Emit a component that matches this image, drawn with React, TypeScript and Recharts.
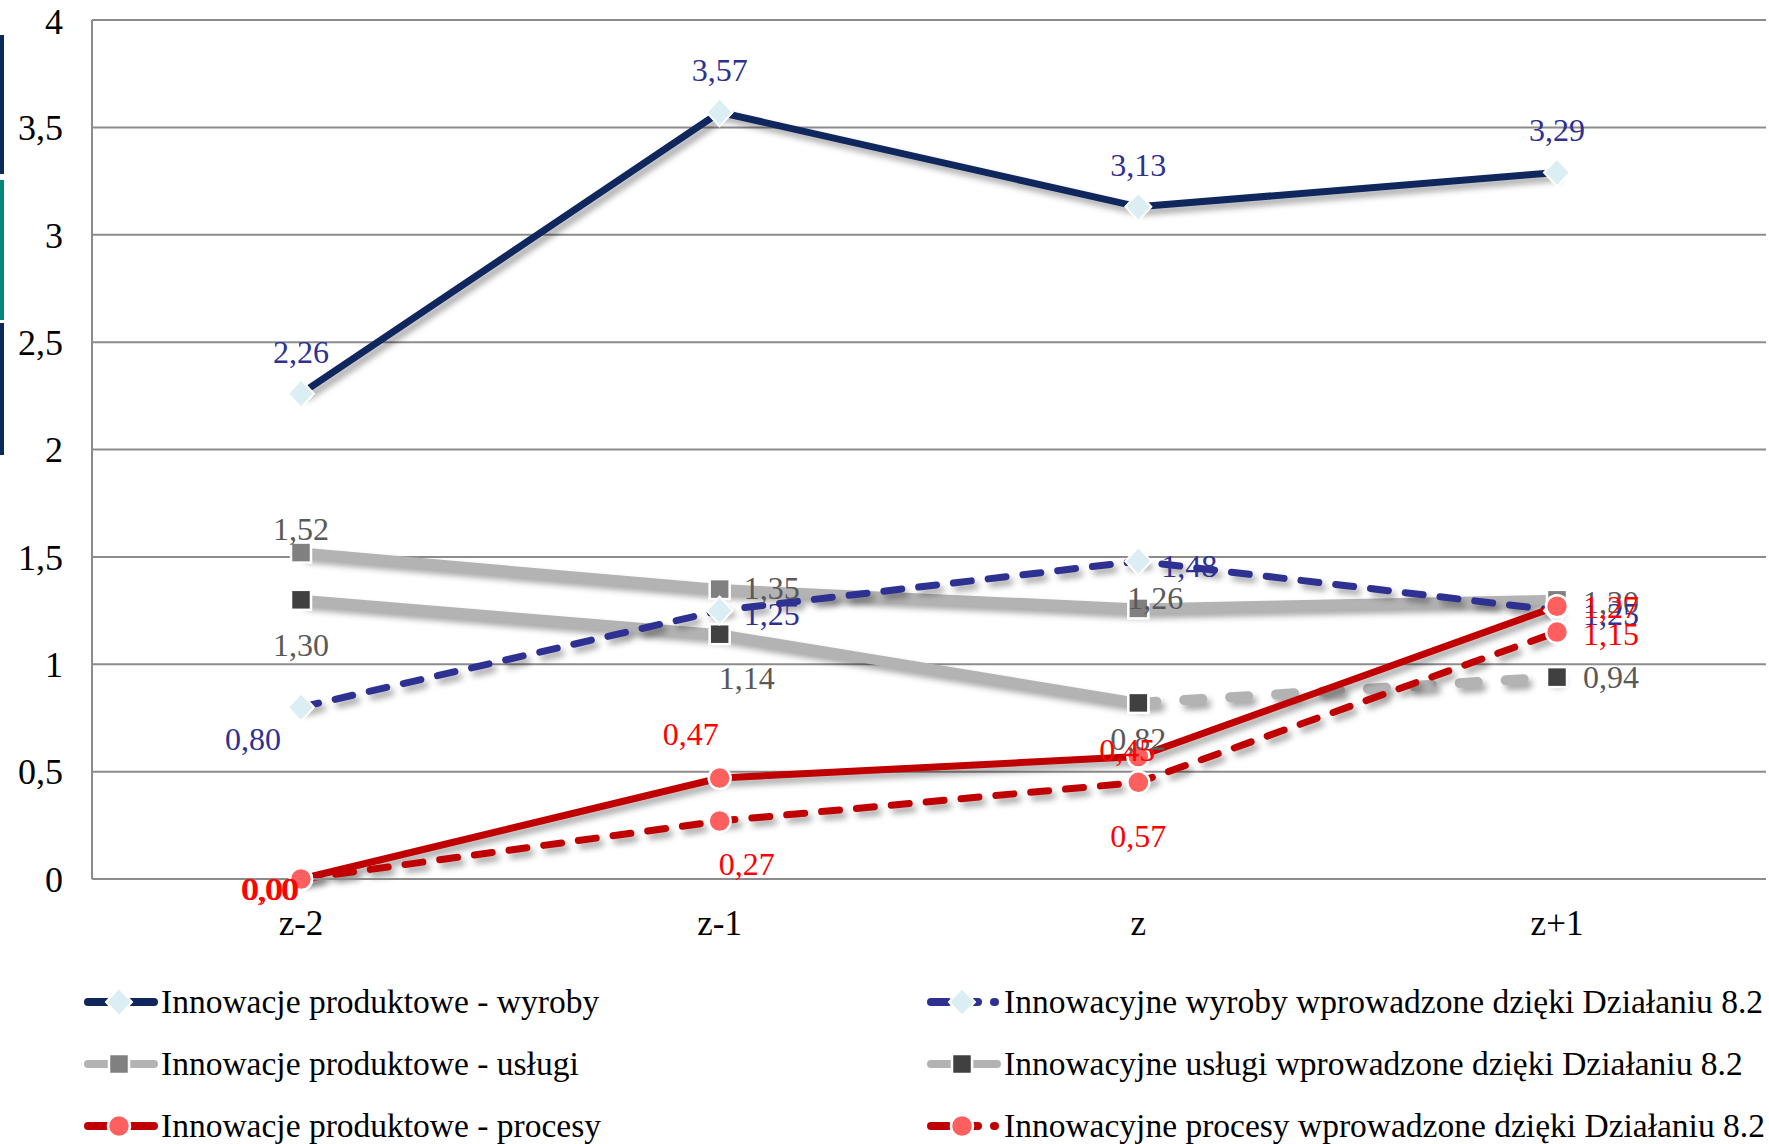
import React from "react";
import { LineChart, Line, XAxis, YAxis, CartesianGrid, LabelList } from "recharts";

const categories = ["z-2", "z-1", "z", "z+1"];
const yTicks = [0, 0.5, 1, 1.5, 2, 2.5, 3, 3.5, 4];

const wyroby = [2.26, 3.57, 3.13, 3.29];
const wyrobyDzialanie = [0.8, 1.25, 1.48, 1.25];
const uslugi = [1.52, 1.35, 1.26, 1.3];
const uslugiDzialanie = [1.3, 1.14, 0.82, 0.94];
const procesy = [0, 0.47, 0.57, 1.27];
const procesyDzialanie = [0, 0.27, 0.45, 1.15];

// label texts as printed in the source (red series have their "z" labels swapped)
const procesyLabels = ["0,00", "0,47", "0,45", "1,27"];
const procesyDzialanieLabels = ["0,00", "0,27", "0,57", "1,15"];

const FONT = "'Liberation Serif', 'Times New Roman', serif";
const NAVY = "#10275e";
const BLUE = "#2e3192";
const GREY_LINE = "#b3b3b3";
const GREY_MARK = "#808080";
const DARK_MARK = "#404040";
const RED = "#c00000";
const RED_MARK = "#ff5f5f";
const DIAMOND = "#dbeef4";

const fmt = (v: number) => v.toFixed(2).replace(".", ",");

const data = categories.map((cat, i) => ({
  cat,
  wyroby: wyroby[i],
  wyrobyDz: wyrobyDzialanie[i],
  uslugi: uslugi[i],
  uslugiDzSolid: i <= 2 ? uslugiDzialanie[i] : null,
  uslugiDzDash: i >= 2 ? uslugiDzialanie[i] : null,
  procesy: procesy[i],
  procesyDz: procesyDzialanie[i],
}));

// label offsets from the point [dx, dy]
const OFFSETS: Record<string, number[][]> = {
  wyroby: [[0, -42], [0, -42], [0, -42], [0, -42]],
  wyrobyDz: [[-48, 32], [52, 3], [51, 5], [54, 3]],
  uslugi: [[0, -24], [52, -1], [17, -10], [54, 2]],
  uslugiDz: [[0, 45], [27, 44], [0, 36], [54, 0]],
  procesy: [[-32, 10], [-29, -44], [-11, -7], [54, 1]],
  procesyDz: [[-30, 10], [27, 43], [0, 54], [54, 2]],
};

const makeLabel =
  (texts: string[], offsets: number[][], color: string) => (props: any) => {
    const { x, y, index } = props;
    if (x == null || y == null || !texts[index]) return null;
    const [dx, dy] = offsets[index];
    return (
      <text
        x={x + dx}
        y={y + dy}
        textAnchor="middle"
        dominantBaseline="central"
        fill={color}
        fontSize={32}
        fontFamily={FONT}
      >
        {texts[index]}
      </text>
    );
  };

type Shape = "diamond" | "square" | "circle";

function Marker({ shape, cx, cy, fill }: { shape: Shape; cx: number; cy: number; fill: string }) {
  if (shape === "diamond")
    return (
      <path
        d={`M${cx},${cy - 14} L${cx + 13},${cy} L${cx},${cy + 14} L${cx - 13},${cy} Z`}
        fill={fill}
        stroke="#fff"
        strokeWidth={2}
      />
    );
  if (shape === "square")
    return <rect x={cx - 10} y={cy - 10} width={20} height={20} fill={fill} stroke="#fff" strokeWidth={2.5} />;
  return <circle cx={cx} cy={cy} r={11} fill={fill} stroke="#fff" strokeWidth={2.5} />;
}

const makeDot = (shape: Shape, fill: string) => (props: any) => {
  const { cx, cy, index, value } = props;
  if (cx == null || cy == null || value == null) return <g key={`d-${index}`} />;
  return (
    <g key={`d-${index}`}>
      <Marker shape={shape} cx={cx} cy={cy} fill={fill} />
    </g>
  );
};

const legendItems = [
  { name: "Innowacje produktowe - wyroby", color: NAVY, shape: "diamond" as Shape, mark: DIAMOND, dashed: false },
  { name: "Innowacyjne wyroby wprowadzone dzięki Działaniu 8.2", color: BLUE, shape: "diamond" as Shape, mark: DIAMOND, dashed: true },
  { name: "Innowacje produktowe - usługi", color: GREY_LINE, shape: "square" as Shape, mark: GREY_MARK, dashed: false },
  { name: "Innowacyjne usługi wprowadzone dzięki Działaniu 8.2", color: GREY_LINE, shape: "square" as Shape, mark: DARK_MARK, dashed: false },
  { name: "Innowacje produktowe - procesy", color: RED, shape: "circle" as Shape, mark: RED_MARK, dashed: false },
  { name: "Innowacyjne procesy wprowadzone dzięki Działaniu 8.2", color: RED, shape: "circle" as Shape, mark: RED_MARK, dashed: true },
];

function LegendIcon({ color, shape, mark, dashed }: { color: string; shape: Shape; mark: string; dashed: boolean }) {
  return (
    <svg width={76} height={30} style={{ display: "block" }}>
      {dashed ? (
        <>
          <line x1={5} y1={15} x2={22} y2={15} stroke={color} strokeWidth={8} strokeLinecap="round" />
          <line x1={48} y1={15} x2={52} y2={15} stroke={color} strokeWidth={8} strokeLinecap="round" />
          <line x1={68} y1={15} x2={69} y2={15} stroke={color} strokeWidth={8} strokeLinecap="round" />
        </>
      ) : (
        <line x1={5} y1={15} x2={71} y2={15} stroke={color} strokeWidth={8} strokeLinecap="round" />
      )}
      <Marker shape={shape} cx={36} cy={15} fill={mark} />
    </svg>
  );
}

export default function App() {
  const lineCss = `.shadowed .recharts-line-curve, .shadowed .recharts-line-dots { filter: drop-shadow(4px 5px 3px rgba(0,0,0,0.35)); }`;
  return (
    <div
      style={{
        position: "absolute",
        left: 0,
        top: 0,
        width: 1769,
        height: 1144,
        background: "#fff",
        overflow: "hidden",
        fontFamily: FONT,
      }}
    >
      <style>{lineCss}</style>
      {/* page decoration bars at the left edge */}
      <div style={{ position: "absolute", left: 0, top: 35, width: 4, height: 139, background: "#0b2a5a" }} />
      <div style={{ position: "absolute", left: 0, top: 180, width: 4, height: 140, background: "#00897b" }} />
      <div style={{ position: "absolute", left: 0, top: 323, width: 4, height: 132, background: "#0b2a5a" }} />

      <LineChart width={1769} height={960} data={data} margin={{ top: 20, right: 3, bottom: 0, left: 0 }}>
        <CartesianGrid vertical={false} stroke="#8c8c8c" strokeWidth={2} />
        <XAxis
          dataKey="cat"
          height={81}
          padding={{ left: 209, right: 209 }}
          tickLine={false}
          tickSize={0}
          tickMargin={31}
          axisLine={{ stroke: "#8c8c8c", strokeWidth: 2 }}
          tick={{ fill: "#000", fontSize: 35, fontFamily: FONT }}
        />
        <YAxis
          width={92}
          domain={[0, 4]}
          ticks={yTicks}
          tickLine={false}
          tickSize={0}
          tickMargin={29}
          axisLine={{ stroke: "#8c8c8c", strokeWidth: 2 }}
          tickFormatter={(v: number) => String(v).replace(".", ",")}
          tick={{ fill: "#000", fontSize: 36, fontFamily: FONT }}
        />

        <Line
          className="shadowed"
          dataKey="uslugi"
          stroke={GREY_LINE}
          strokeWidth={10}
          dot={makeDot("square", GREY_MARK)}
          activeDot={false}
          isAnimationActive={false}
        >
          <LabelList content={makeLabel(uslugi.map(fmt), OFFSETS.uslugi, "#595959")} />
        </Line>
        <Line
          className="shadowed"
          dataKey="uslugiDzSolid"
          stroke={GREY_LINE}
          strokeWidth={10}
          dot={makeDot("square", DARK_MARK)}
          activeDot={false}
          isAnimationActive={false}
        >
          <LabelList
            content={makeLabel(uslugiDzialanie.map((v, i) => (i <= 2 ? fmt(v) : "")), OFFSETS.uslugiDz, "#595959")}
          />
        </Line>
        <Line
          className="shadowed"
          dataKey="uslugiDzDash"
          stroke={GREY_LINE}
          strokeWidth={10}
          strokeDasharray="18 28"
          strokeLinecap="round"
          dot={makeDot("square", DARK_MARK)}
          activeDot={false}
          isAnimationActive={false}
        >
          <LabelList
            content={makeLabel(uslugiDzialanie.map((v, i) => (i === 3 ? fmt(v) : "")), OFFSETS.uslugiDz, "#595959")}
          />
        </Line>
        <Line
          className="shadowed"
          dataKey="wyroby"
          stroke={NAVY}
          strokeWidth={7}
          dot={makeDot("diamond", DIAMOND)}
          activeDot={false}
          isAnimationActive={false}
        >
          <LabelList content={makeLabel(wyroby.map(fmt), OFFSETS.wyroby, BLUE)} />
        </Line>
        <Line
          className="shadowed"
          dataKey="wyrobyDz"
          stroke={BLUE}
          strokeWidth={7}
          strokeDasharray="18 17"
          strokeLinecap="round"
          dot={makeDot("diamond", DIAMOND)}
          activeDot={false}
          isAnimationActive={false}
        >
          <LabelList content={makeLabel(wyrobyDzialanie.map(fmt), OFFSETS.wyrobyDz, BLUE)} />
        </Line>
        <Line
          className="shadowed"
          dataKey="procesy"
          stroke={RED}
          strokeWidth={7}
          dot={makeDot("circle", RED_MARK)}
          activeDot={false}
          isAnimationActive={false}
        >
          <LabelList content={makeLabel(procesyLabels, OFFSETS.procesy, "#ff0000")} />
        </Line>
        <Line
          className="shadowed"
          dataKey="procesyDz"
          stroke={RED}
          strokeWidth={7}
          strokeDasharray="18 17"
          strokeLinecap="round"
          dot={makeDot("circle", RED_MARK)}
          activeDot={false}
          isAnimationActive={false}
        >
          <LabelList content={makeLabel(procesyDzialanieLabels, OFFSETS.procesyDz, "#ff0000")} />
        </Line>
      </LineChart>

      {/* legend: two columns, three rows */}
      {legendItems.map((item, i) => {
        const col = i % 2;
        const row = Math.floor(i / 2);
        return (
          <div
            key={item.name}
            style={{
              position: "absolute",
              left: col === 0 ? 83 : 926,
              top: 1002 + row * 62 - 20,
              height: 40,
              display: "flex",
              alignItems: "center",
              whiteSpace: "nowrap",
            }}
          >
            <LegendIcon color={item.color} shape={item.shape} mark={item.mark} dashed={item.dashed} />
            <span style={{ fontSize: 33.5, color: "#000", marginLeft: 2 }}>{item.name}</span>
          </div>
        );
      })}
    </div>
  );
}
